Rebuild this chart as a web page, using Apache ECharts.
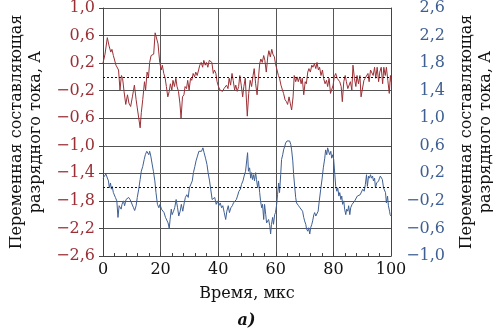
<!DOCTYPE html>
<html>
<head>
<meta charset="utf-8">
<script src="https://cdn.jsdelivr.net/npm/echarts@6/dist/echarts.min.js"></script>
<style>
  html, body { margin: 0; padding: 0; background: #fff; }
  #chart { width: 493px; height: 336px; }
</style>
</head>
<body>
<div id="chart"></div>
<script>
  // upper trace (left axis), time in µs
  const redX = [0.0, 0.7, 1.5, 2.1, 2.7, 3.1, 3.6, 4.1, 4.5, 5.0, 5.4, 5.9, 6.4, 6.8, 7.3, 7.9, 8.5, 9.0, 9.6, 10.2,
    10.9, 11.5, 11.9, 12.4, 12.9, 13.3, 13.8, 14.4, 14.8, 15.3, 15.8, 16.2, 16.7, 17.2, 17.6, 18.1, 18.7, 19.1, 19.7, 20.2,
    20.6, 21.1, 21.6, 22.0, 22.5, 23.0, 23.4, 23.9, 24.3, 24.8, 25.3, 25.7, 26.2, 26.7, 27.1, 27.6, 28.1, 28.5, 29.0, 29.4,
    29.9, 30.4, 30.8, 31.3, 31.8, 32.2, 32.7, 33.2, 33.6, 34.1, 34.6, 35.0, 35.5, 35.9, 36.4, 36.9, 37.3, 37.8, 38.3, 38.7,
    39.2, 39.6, 40.1, 40.6, 41.0, 41.5, 42.0, 42.4, 42.9, 43.4, 43.8, 44.3, 44.8, 45.2, 45.7, 46.1, 46.6, 47.1, 47.5, 48.0,
    48.5, 48.9, 49.4, 50.1, 50.6, 51.1, 51.6, 52.1, 52.5, 53.0, 53.5, 53.9, 54.4, 54.8, 55.3, 55.8, 56.2, 56.7, 57.2, 57.6,
    58.1, 58.6, 59.0, 59.5, 59.9, 60.4, 60.9, 61.3, 61.8, 62.3, 62.7, 63.2, 63.7, 64.1, 64.6, 65.0, 65.5, 66.0, 66.4, 66.9,
    67.4, 67.8, 68.3, 68.8, 69.2, 69.7, 70.2, 70.6, 71.1, 71.5, 72.0, 72.5, 72.9, 73.4, 73.9, 74.3, 74.8, 75.2, 75.7, 76.2,
    76.6, 77.1, 77.6, 78.0, 78.5, 79.0, 79.4, 79.9, 80.3, 80.8, 81.3, 81.7, 82.2, 82.7, 83.1, 83.6, 84.1, 84.5, 85.0, 85.5,
    85.9, 86.4, 86.8, 87.3, 87.8, 88.2, 88.7, 89.2, 89.6, 90.1, 90.6, 91.0, 91.5, 92.0, 92.4, 92.9, 93.3, 93.8, 94.3, 94.7,
    95.2, 95.7, 96.1, 96.6, 97.1, 97.5, 98.0, 98.4, 98.9, 99.4, 99.8, 100.0];
  const redY = [0.20, 0.33, 0.57, 0.45, 0.36, 0.40, 0.31, 0.33, 0.17, 0.19, 0.10, -0.19, 0.02, -0.02, -0.21, -0.40, -0.26, -0.38, -0.43, -0.29,
    -0.12, -0.33, -0.45, -0.43, -0.74, -0.52, -0.33, -0.07, -0.19, 0.07, 0.00, 0.21, 0.31, 0.29, 0.33, 0.64, 0.62, 0.48, 0.21, 0.10,
    0.17, 0.05, -0.02, -0.14, -0.29, -0.21, -0.10, -0.19, -0.05, -0.14, -0.02, -0.14, -0.21, -0.38, -0.60, -0.29, -0.26, -0.14, -0.17, -0.05,
    -0.19, -0.02, -0.05, 0.05, 0.00, 0.07, 0.02, 0.10, 0.17, 0.21, 0.14, 0.24, 0.17, 0.21, 0.14, 0.24, 0.26, 0.21, 0.05, 0.10,
    0.05, -0.07, -0.14, -0.19, -0.17, -0.21, -0.17, -0.19, -0.12, -0.17, -0.02, -0.12, 0.05, -0.05, -0.19, -0.12, -0.21, -0.14, 0.02, -0.12,
    -0.29, -0.14, -0.02, -0.57, -0.24, -0.05, -0.14, 0.02, 0.12, -0.10, -0.26, -0.05, 0.19, 0.26, 0.21, 0.31, 0.24, 0.07, 0.29, 0.38,
    0.29, 0.40, 0.33, 0.29, 0.19, 0.21, 0.02, -0.02, -0.12, -0.19, -0.24, -0.33, -0.36, -0.40, -0.29, -0.38, -0.48, -0.29, 0.02, -0.07,
    0.00, -0.07, 0.00, -0.10, -0.02, -0.26, -0.07, -0.10, 0.07, 0.12, 0.07, 0.17, 0.14, 0.19, 0.12, 0.21, 0.10, 0.14, 0.02, 0.10,
    -0.02, -0.10, -0.05, -0.14, -0.02, -0.24, -0.26, -0.12, 0.00, 0.05, -0.02, 0.00, -0.07, -0.14, -0.36, -0.07, 0.02, -0.07, -0.17, -0.19,
    -0.07, -0.19, 0.17, -0.02, -0.14, 0.02, -0.10, 0.02, -0.29, -0.31, -0.05, -0.02, 0.00, 0.05, -0.07, 0.10, 0.12, 0.02, 0.14, -0.02,
    0.14, -0.07, 0.07, 0.14, -0.10, 0.14, 0.02, 0.14, -0.05, -0.24, 0.02, -0.07];

  // lower trace (right axis)
  const blueX = [0.0, 0.5, 1.0, 1.5, 1.9, 2.2, 2.6, 2.9, 3.2, 3.6, 3.9, 4.3, 4.8, 5.2, 5.6, 5.9, 6.3, 6.6, 7.1, 7.5,
    8.0, 8.5, 8.9, 9.4, 10.0, 10.6, 11.0, 11.5, 11.9, 12.4, 12.9, 13.3, 13.8, 14.3, 14.7, 15.2, 15.5, 15.9, 16.2, 16.6,
    17.0, 17.5, 18.0, 18.4, 18.9, 19.4, 19.8, 20.3, 20.8, 21.2, 21.7, 22.1, 22.6, 23.0, 23.3, 23.7, 24.0, 24.5, 24.9, 25.4,
    25.9, 26.3, 26.8, 27.2, 27.7, 28.2, 28.6, 29.1, 29.6, 30.0, 30.5, 31.0, 31.4, 31.9, 32.3, 32.8, 33.3, 33.7, 34.2, 34.7,
    35.1, 35.6, 36.1, 36.5, 37.0, 37.4, 37.9, 38.4, 38.8, 39.3, 39.8, 40.2, 40.7, 41.2, 41.6, 42.1, 42.6, 43.0, 43.5, 43.9,
    44.4, 44.9, 45.3, 45.8, 46.3, 46.7, 47.2, 47.7, 48.1, 48.6, 49.0, 49.5, 50.2, 50.5, 50.9, 51.3, 51.6, 51.9, 52.3, 52.6,
    53.0, 53.3, 53.7, 54.0, 54.4, 54.7, 55.1, 55.4, 55.8, 56.1, 56.5, 56.8, 57.2, 57.5, 57.9, 58.2, 58.5, 58.9, 59.2, 59.6,
    59.9, 60.3, 60.6, 61.0, 61.3, 61.7, 62.0, 62.4, 62.7, 63.1, 63.4, 63.9, 64.3, 64.8, 65.2, 65.5, 65.9, 66.2, 66.6, 66.9,
    67.2, 67.6, 67.9, 68.4, 68.9, 69.3, 69.7, 70.0, 70.4, 70.7, 71.1, 71.4, 71.8, 72.1, 72.5, 72.8, 73.2, 73.5, 73.9, 74.2,
    74.7, 75.1, 75.6, 76.1, 76.5, 77.0, 77.3, 77.7, 78.0, 78.4, 78.7, 79.1, 79.4, 79.8, 80.1, 80.5, 80.8, 81.2, 81.5, 81.9,
    82.2, 82.6, 82.9, 83.2, 83.6, 83.9, 84.3, 84.6, 85.0, 85.3, 85.7, 86.0, 86.5, 87.0, 87.4, 87.9, 88.3, 88.8, 89.3, 89.7,
    90.2, 90.7, 91.1, 91.5, 91.8, 92.2, 92.5, 92.9, 93.2, 93.6, 93.9, 94.3, 94.6, 95.0, 95.3, 95.7, 96.0, 96.3, 96.7, 97.0,
    97.4, 97.7, 98.1, 98.4, 98.8, 99.1, 99.5, 99.7, 100.0];
  const blueY = [0.13, 0.16, 0.19, 0.18, 0.09, -0.01, 0.06, -0.03, 0.01, -0.08, -0.06, -0.15, -0.20, -0.44, -0.27, -0.25, -0.32, -0.25, -0.20, -0.27,
    -0.18, -0.20, -0.15, -0.18, -0.20, -0.30, -0.34, -0.27, -0.15, -0.03, 0.11, 0.23, 0.30, 0.40, 0.47, 0.52, 0.54, 0.47, 0.52, 0.45,
    0.35, 0.23, 0.09, -0.08, -0.25, -0.30, -0.25, -0.32, -0.30, -0.37, -0.44, -0.42, -0.52, -0.60, -0.47, -0.32, -0.40, -0.35, -0.30, -0.18,
    -0.30, -0.42, -0.35, -0.25, -0.35, -0.23, -0.15, -0.11, -0.15, -0.01, 0.01, 0.09, 0.21, 0.30, 0.38, 0.45, 0.52, 0.54, 0.52, 0.57,
    0.50, 0.42, 0.33, 0.21, 0.09, -0.03, -0.18, -0.20, -0.15, -0.25, -0.20, -0.27, -0.23, -0.30, -0.27, -0.37, -0.47, -0.35, -0.27, -0.37,
    -0.30, -0.27, -0.23, -0.25, -0.18, -0.13, -0.06, -0.03, 0.04, 0.09, 0.16, 0.23, 0.50, 0.23, 0.28, 0.13, 0.21, 0.11, 0.18, 0.09,
    0.21, 0.11, -0.01, 0.09, -0.08, -0.20, -0.30, -0.25, -0.47, -0.25, -0.40, -0.52, -0.54, -0.47, -0.56, -0.68, -0.54, -0.44, -0.54, -0.40,
    -0.37, -0.25, -0.11, 0.06, -0.08, 0.18, 0.40, 0.47, 0.54, 0.59, 0.64, 0.67, 0.66, 0.67, 0.62, 0.54, 0.38, 0.18, -0.01, -0.15,
    -0.23, -0.25, -0.27, -0.30, -0.32, -0.35, -0.44, -0.49, -0.54, -0.61, -0.64, -0.59, -0.68, -0.59, -0.54, -0.49, -0.40, -0.37, -0.42, -0.40,
    -0.35, -0.20, -0.03, 0.13, 0.28, 0.42, 0.54, 0.47, 0.57, 0.59, 0.47, 0.52, 0.42, 0.47, 0.40, 0.18, 0.01, -0.06, -0.01, -0.13,
    -0.08, -0.18, -0.13, -0.25, -0.20, -0.32, -0.40, -0.32, -0.35, -0.27, -0.40, -0.30, -0.25, -0.27, -0.20, -0.18, -0.13, -0.15, -0.11, -0.13,
    -0.03, -0.06, 0.04, 0.18, 0.01, 0.16, 0.13, 0.18, 0.13, 0.16, 0.09, 0.13, -0.01, 0.06, 0.04, 0.09, 0.13, 0.16, 0.18, 0.11,
    -0.01, 0.01, -0.08, -0.23, -0.13, -0.27, -0.35, -0.40, -0.42];

  const xTicks = { min: 0, max: 100, step: 20 };
  const leftTicks = { min: -2.6, max: 1.0, step: 0.4 };
  const rightTicks = { min: -1.0, max: 2.6, step: 0.4 };

  const axisTitle = "Переменная составляющая\nразрядного тока, А";
  const redColor = "#9a3036";
  const blueColor = "#3f5f92";
  const font = "DejaVu Serif";

  function fmt(v) {
    return v.toFixed(1).replace(".", ",").replace("-", "\u2212");
  }

  const chart = echarts.init(document.getElementById("chart"), null, { renderer: "canvas" });

  chart.setOption({
    animation: false,
    textStyle: { fontFamily: font },
    title: {
      text: "а)",
      left: "center",
      top: 308,
      textStyle: { fontFamily: font, fontSize: 16, fontWeight: "bold", fontStyle: "italic", color: "#111" }
    },
    grid: { left: 103, right: 102, top: 8, bottom: 80, outerBoundsMode: "none", containLabel: false },
    xAxis: {
      type: "value",
      min: xTicks.min,
      max: xTicks.max,
      interval: xTicks.step,
      name: "Время, мкс",
      nameLocation: "middle",
      nameGap: 30,
      nameTextStyle: { fontFamily: font, fontSize: 16, color: "#111" },
      axisLine: { show: true, onZero: false, lineStyle: { color: "#444", width: 1 } },
      axisTick: { show: true, inside: true, length: 4, lineStyle: { color: "#444" } },
      minorTick: { show: true, splitNumber: 5, length: 3, lineStyle: { color: "#444" } },
      splitLine: { show: true, lineStyle: { color: "#555", width: 1 } },
      axisLabel: { fontFamily: font, fontSize: 16, color: "#111", margin: 6 }
    },
    yAxis: [
      {
        type: "value",
        position: "left",
        min: leftTicks.min,
        max: leftTicks.max,
        interval: leftTicks.step,
        name: axisTitle,
        nameLocation: "middle",
        nameRotate: 90,
        nameGap: 58,
        nameTextStyle: { fontFamily: font, fontSize: 16, color: "#111", lineHeight: 19 },
        axisLine: { show: true, onZero: false, lineStyle: { color: "#444", width: 1 } },
        axisTick: { show: true, length: 4, lineStyle: { color: "#444" } },
        splitLine: { show: true, lineStyle: { color: "#555", width: 1 } },
        axisLabel: { fontFamily: font, fontSize: 16, color: redColor, margin: 8, formatter: fmt }
      },
      {
        type: "value",
        position: "right",
        min: rightTicks.min,
        max: rightTicks.max,
        interval: rightTicks.step,
        name: axisTitle,
        nameLocation: "middle",
        nameRotate: 90,
        nameGap: 66,
        nameTextStyle: { fontFamily: font, fontSize: 16, color: "#111", lineHeight: 19 },
        axisLine: { show: true, onZero: false, lineStyle: { color: "#444", width: 1 } },
        axisTick: { show: false },
        splitLine: { show: false },
        axisLabel: { fontFamily: font, fontSize: 16, color: blueColor, margin: 54, align: "right", formatter: fmt }
      }
    ],
    series: [
      {
        name: "red",
        type: "line",
        yAxisIndex: 0,
        showSymbol: false,
        data: redX.map((x, i) => [x, redY[i]]),
        lineStyle: { color: redColor, width: 1 },
        markLine: {
          silent: true,
          symbol: "none",
          label: { show: false },
          lineStyle: { color: "#111", type: [2, 2], width: 1 },
          data: [{ yAxis: 0 }]
        }
      },
      {
        name: "blue",
        type: "line",
        yAxisIndex: 1,
        showSymbol: false,
        data: blueX.map((x, i) => [x, blueY[i]]),
        lineStyle: { color: blueColor, width: 1 },
        markLine: {
          silent: true,
          symbol: "none",
          label: { show: false },
          lineStyle: { color: "#111", type: [2, 2], width: 1 },
          data: [{ yAxis: 0 }]
        }
      }
    ]
  });
</script>
</body>
</html>
